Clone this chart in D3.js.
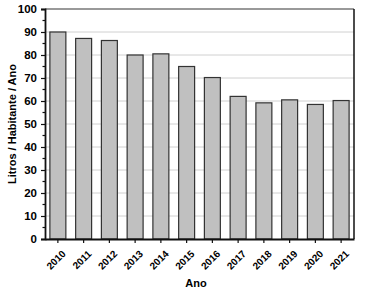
<!DOCTYPE html>
<html lang="pt">
<head>
<meta charset="UTF-8">
<title>Litros / Habitante / Ano</title>
<script src="https://d3js.org/d3.v7.min.js"></script>
<style>
  body { margin: 0; background: #fff; }
  svg { display: block; font-family: 'Liberation Sans', Arial, sans-serif; }
  .grid line { stroke: #d0d0d0; stroke-width: 1; }
  .lbl { font-weight: bold; fill: #000; }
</style>
</head>
<body>
<svg id="chart" width="373" height="297"></svg>
<script>
  const anos = ['2010', '2011', '2012', '2013', '2014', '2015', '2016', '2017', '2018', '2019', '2020', '2021'];
  const litros = [90, 87.2, 86.3, 80, 80.5, 75, 70.2, 62, 59.2, 60.5, 58.5, 60.2];
  const yTicks = [0, 10, 20, 30, 40, 50, 60, 70, 80, 90, 100];
  const yMinor = [5, 15, 25, 35, 45, 55, 65, 75, 85, 95];

  const svg = d3.select('#chart');
  const margin = { top: 9, right: 19, bottom: 58, left: 45 };
  const W = 373, H = 297;
  const x0 = margin.left, x1 = W - margin.right;
  const y0 = H - margin.bottom, y1 = margin.top;

  const x = d3.scaleBand()
    .domain(anos)
    .range([x0, x1])
    .paddingInner(0.38)
    .paddingOuter(0.19);

  const y = d3.scaleLinear()
    .domain([0, 100])
    .range([y0, y1]);

  // grade
  svg.append('g').attr('class', 'grid')
    .selectAll('line')
    .data(yTicks.filter(d => d > 0 && d < 100))
    .enter().append('line')
    .attr('x1', x0).attr('x2', x1)
    .attr('y1', d => y(d)).attr('y2', d => y(d));

  // barras
  svg.append('g')
    .selectAll('rect')
    .data(litros)
    .enter().append('rect')
    .attr('x', (d, i) => x(anos[i]))
    .attr('y', d => y(d))
    .attr('width', x.bandwidth())
    .attr('height', d => y(0) - y(d))
    .attr('fill', '#c0c0c0')
    .attr('stroke', '#333')
    .attr('stroke-width', 1.2);

  // moldura
  svg.append('line').attr('x1', x0).attr('x2', x1).attr('y1', y1).attr('y2', y1)
    .attr('stroke', '#777').attr('stroke-width', 1.5);
  svg.append('line').attr('x1', x1).attr('x2', x1).attr('y1', y1).attr('y2', y0)
    .attr('stroke', '#111').attr('stroke-width', 1.5);

  // eixo y
  const yAxis = svg.append('g')
    .attr('transform', `translate(${x0},0)`)
    .call(d3.axisLeft(y).tickValues(yTicks).tickSize(4).tickPadding(4));
  yAxis.attr('font-size', 11.5).attr('font-family', null);
  yAxis.select('.domain').attr('stroke', '#111').attr('stroke-width', 1.8);
  yAxis.selectAll('.tick line').attr('stroke', '#111').attr('stroke-width', 1.2);
  yAxis.selectAll('.tick text').attr('class', 'lbl');
  svg.append('g')
    .attr('transform', `translate(${x0},0)`)
    .selectAll('line')
    .data(yMinor)
    .enter().append('line')
    .attr('x1', -2.5).attr('x2', 0)
    .attr('y1', d => y(d)).attr('y2', d => y(d))
    .attr('stroke', '#111').attr('stroke-width', 1.2);

  // eixo x (rótulos desenhados à parte, girados)
  const xAxis = svg.append('g')
    .attr('transform', `translate(0,${y0})`)
    .call(d3.axisBottom(x).tickSize(4).tickSizeOuter(0).tickFormat(''));
  xAxis.select('.domain').attr('stroke', '#111').attr('stroke-width', 1.8);
  xAxis.selectAll('.tick line').attr('stroke', '#111').attr('stroke-width', 1.2);

  svg.append('g')
    .selectAll('text')
    .data(anos)
    .enter().append('text')
    .attr('class', 'lbl')
    .attr('font-size', 10)
    .attr('text-anchor', 'end')
    .attr('transform', d => `translate(${x(d) + x.bandwidth() / 2 + 8.5},${y0 + 15.5}) rotate(-45)`)
    .text(d => d);

  // títulos
  svg.append('text')
    .attr('class', 'lbl')
    .attr('x', 196)
    .attr('y', 287)
    .attr('text-anchor', 'middle')
    .attr('font-size', 11)
    .text('Ano');

  svg.append('text')
    .attr('class', 'lbl')
    .attr('transform', 'translate(16,124) rotate(-90)')
    .attr('text-anchor', 'middle')
    .attr('font-size', 11)
    .text('Litros / Habitante / Ano');
</script>
</body>
</html>
